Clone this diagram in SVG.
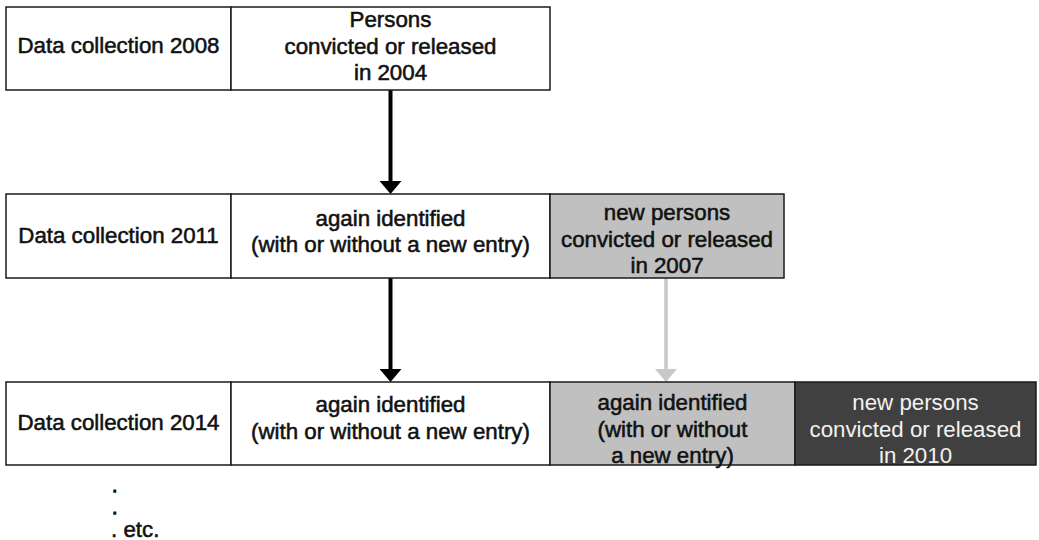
<svg xmlns="http://www.w3.org/2000/svg" width="1039" height="540" viewBox="0 0 1039 540">
  <defs>
    <style>
      .box { fill: #ffffff; stroke: #1a1a1a; stroke-width: 1.5; }
      .gray { fill: #c0c0c0; stroke: #1a1a1a; stroke-width: 1.5; }
      .dark { fill: #404040; stroke: #1a1a1a; stroke-width: 1.5; }
      .t { font-family: "Liberation Sans", Arial, sans-serif; font-size: 22.3px; fill: #111111; stroke: #111111; stroke-width: 0.55; text-anchor: middle; }
      .w { font-family: "Liberation Sans", Arial, sans-serif; font-size: 22.3px; fill: #f2f2f2; text-anchor: middle; }
      .l { font-family: "Liberation Sans", Arial, sans-serif; font-size: 16px; fill: #111111; stroke: #111111; stroke-width: 1.4; }
      .cb { stroke: #000000; stroke-width: 4; fill: none; }
      .cg { stroke: #c8c8c8; stroke-width: 3.5; fill: none; }
    </style>
    <marker id="ab" viewBox="0 0 13 22" markerUnits="userSpaceOnUse" markerWidth="13" markerHeight="22" refX="0" refY="11" orient="auto">
      <path d="M0,0 L13,11 L0,22 Z" fill="#000000"/>
    </marker>
    <marker id="ag" viewBox="0 0 13 22" markerUnits="userSpaceOnUse" markerWidth="13" markerHeight="22" refX="0" refY="11" orient="auto">
      <path d="M0,0 L13,11 L0,22 Z" fill="#c8c8c8"/>
    </marker>
  </defs>

  <g id="connectors">
    <line class="cb" x1="390.5" y1="90" x2="390.5" y2="181" marker-end="url(#ab)"/>
    <line class="cb" x1="390.5" y1="278" x2="390.5" y2="369" marker-end="url(#ab)"/>
    <line class="cg" x1="666" y1="278" x2="666" y2="369" marker-end="url(#ag)"/>
  </g>

  <g id="row1-label">
    <rect class="box" x="6" y="7" width="225" height="83"/>
    <text class="t" x="118.5" y="53">Data collection 2008</text>
  </g>
  <g id="row1-persons">
    <rect class="box" x="231" y="7" width="319" height="83"/>
    <text class="t" x="390.5" y="27">Persons</text>
    <text class="t" x="390.5" y="53.5">convicted or released</text>
    <text class="t" x="390.5" y="80">in 2004</text>
  </g>

  <g id="row2-label">
    <rect class="box" x="6" y="194" width="225" height="84"/>
    <text class="t" x="118.5" y="243">Data collection 2011</text>
  </g>
  <g id="row2-again">
    <rect class="box" x="231" y="194" width="319" height="84"/>
    <text class="t" x="390.5" y="226">again  identified</text>
    <text class="t" x="390.5" y="252">(with or without a new entry)</text>
  </g>
  <g id="row2-new">
    <rect class="gray" x="550" y="194" width="234" height="84"/>
    <text class="t" x="667" y="220">new persons</text>
    <text class="t" x="667" y="246.5">convicted or released</text>
    <text class="t" x="667" y="273">in 2007</text>
  </g>

  <g id="row3-label">
    <rect class="box" x="6" y="382" width="225" height="83"/>
    <text class="t" x="118.5" y="430">Data collection 2014</text>
  </g>
  <g id="row3-again">
    <rect class="box" x="231" y="382" width="319" height="83"/>
    <text class="t" x="390.5" y="412">again identified</text>
    <text class="t" x="390.5" y="439">(with or without a new entry)</text>
  </g>
  <g id="row3-again-2007">
    <rect class="gray" x="550" y="382" width="245" height="83"/>
    <text class="t" x="672.5" y="410">again identified</text>
    <text class="t" x="672.5" y="436.5">(with or without</text>
    <text class="t" x="672.5" y="463">a new entry)</text>
  </g>
  <g id="row3-new">
    <rect class="dark" x="795" y="382" width="241" height="83"/>
    <text class="w" x="915.5" y="410">new persons</text>
    <text class="w" x="915.5" y="436.5">convicted or released</text>
    <text class="w" x="915.5" y="463">in 2010</text>
  </g>

  <g id="etc">
    <text class="l" x="112.5" y="492">.</text>
    <text class="l" x="112.5" y="514">.</text>
    <text class="t" x="111" y="537" style="text-anchor:start">. etc.</text>
  </g>
</svg>
